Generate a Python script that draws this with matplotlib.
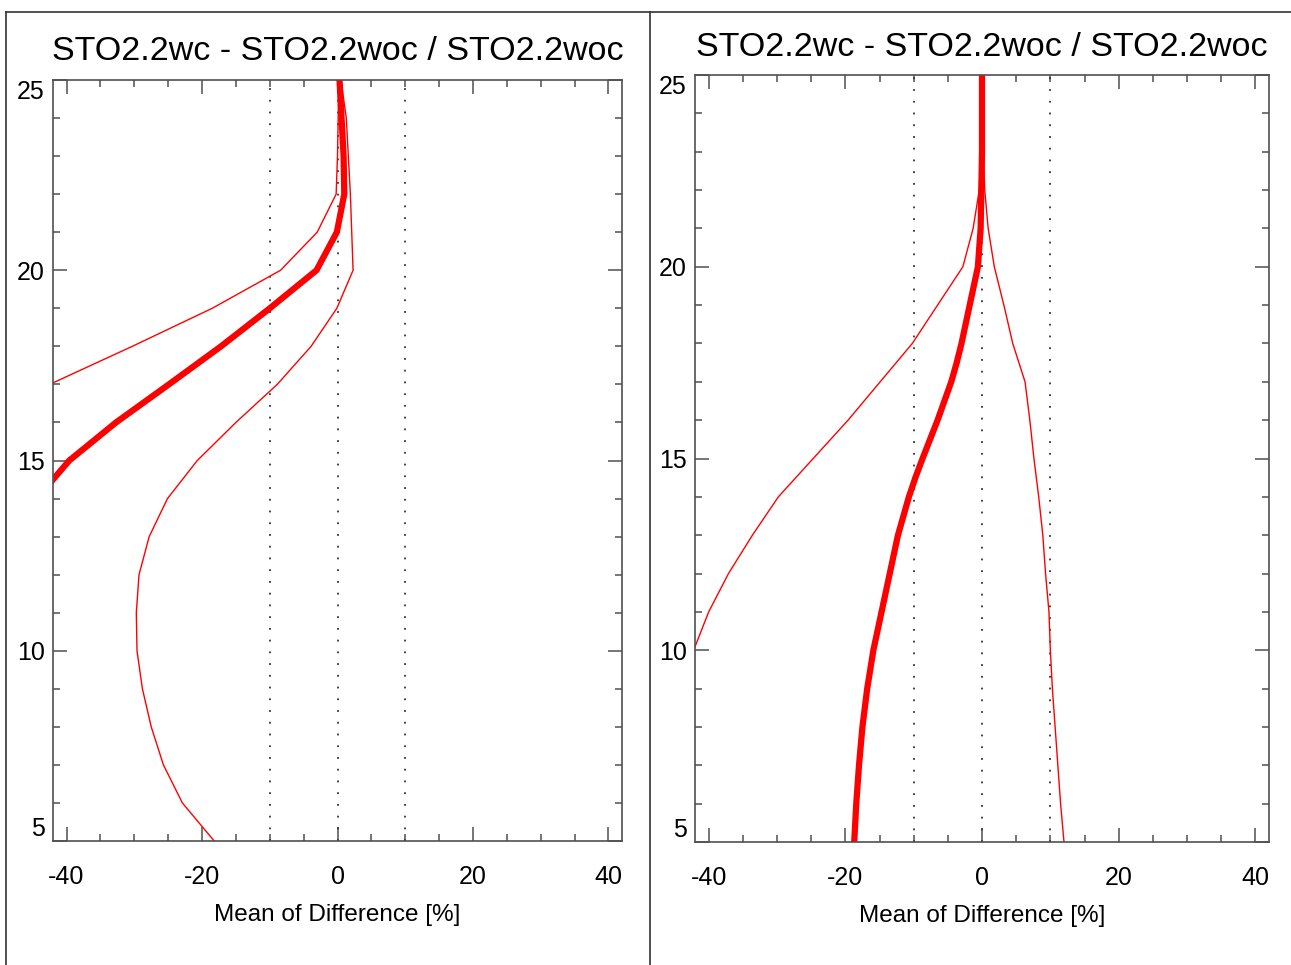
import matplotlib
matplotlib.use("Agg")
import matplotlib.pyplot as plt
from matplotlib.lines import Line2D
from matplotlib.ticker import MultipleLocator

plt.rcParams['font.family'] = ['Liberation Sans', 'DejaVu Sans']
plt.rcParams['axes.unicode_minus'] = False

title = "STO2.2wc - STO2.2woc / STO2.2woc"
xlabel = "Mean of Difference [%]"

# left panel (altitude in km, values in %)
alt_l_mean = [14, 15, 16, 17, 18, 19, 20, 21, 22, 23, 24, 25]
mean_l = [-44.4, -39.6, -32.7, -24.9, -17.2, -10.0, -3.1, -0.1, 1.0, 0.9, 0.6, 0.3]
alt_l_lo = [16, 17, 18, 19, 20, 21, 22, 23, 24, 25]
lo_l = [-54.0, -42.5, -30.3, -18.5, -8.4, -3.0, -0.2, 0.0, 0.1, 0.2]
alt_l_hi = list(range(5, 26))
hi_l = [-18.2, -22.9, -25.7, -27.5, -28.8, -29.6, -29.7, -29.3, -27.8, -25.1,
        -20.7, -15.0, -8.9, -3.9, -0.1, 2.3, 2.1, 1.9, 1.6, 1.3, 0.5]

# right panel
alt_r_mean = [5, 6, 7, 8, 9, 10, 11, 12, 13, 13.5, 14, 14.5, 15, 15.5, 16, 16.5,
              17, 17.5, 18, 19, 20, 21, 22, 23, 24, 25]
mean_r = [-18.7, -18.4, -18.0, -17.5, -16.8, -15.9, -14.7, -13.5, -12.3, -11.5,
          -10.7, -9.75, -8.7, -7.6, -6.5, -5.5, -4.5, -3.7, -3.0, -1.8, -0.6,
          -0.2, -0.1, 0.0, 0.0, 0.0]
alt_r_lo = list(range(9, 26))
lo_r = [-44.5, -42.2, -40.0, -37.1, -33.6, -29.8, -24.7, -19.6, -14.9, -10.2,
        -6.5, -2.8, -1.3, -0.4, -0.2, -0.1, 0.0]
alt_r_hi = list(range(5, 26))
hi_r = [12.0, 11.5, 11.1, 10.7, 10.3, 10.0, 9.8, 9.3, 8.9, 8.3,
        7.6, 7.0, 6.3, 4.5, 3.2, 1.8, 0.9, 0.4, 0.2, 0.1, 0.1]

ref_lines = [-10, 0, 10]

axcol = '#505050'

fig = plt.figure(figsize=(12.91, 9.65), dpi=100)
ax1 = fig.add_axes([53/1291, 1-841/965, 569/1291, 761/965])
ax2 = fig.add_axes([695/1291, 1-842/965, 574/1291, 767/965])


def setup(ax, mean_alt, mean, lo_alt, lo, hi_alt, hi):
    for xv in ref_lines:
        ax.axvline(xv, color='#333333', lw=1.3, ls=(0, (1, 5.5)))
    ax.plot(lo, lo_alt, color='red', lw=1.0)
    ax.plot(hi, hi_alt, color='red', lw=1.0)
    ax.plot(mean, mean_alt, color='red', lw=4.5, solid_joinstyle='round')
    ax.set_xlim(-42, 42)
    ax.set_ylim(5, 25)
    ax.set_xticks([-40, -20, 0, 20, 40])
    ax.set_yticks([5, 10, 15, 20, 25])
    ax.xaxis.set_minor_locator(MultipleLocator(5))
    ax.yaxis.set_minor_locator(MultipleLocator(1))
    ax.tick_params(which='both', direction='in', top=True, right=True,
                   color=axcol, width=1.1)
    ax.tick_params(which='major', length=10, labelsize=18)
    ax.tick_params(which='minor', length=5)
    ax.tick_params(axis='x', pad=17)
    ax.tick_params(axis='y', pad=6)
    for s in ax.spines.values():
        s.set_color(axcol)
        s.set_linewidth(1.2)
    ax.set_xlabel(xlabel, fontsize=17.5, labelpad=11)
    yt = ax.yaxis.get_major_ticks()
    yt[0].label1.set_va('bottom')
    yt[-1].label1.set_va('top')


setup(ax1, alt_l_mean, mean_l, alt_l_lo, lo_l, alt_l_hi, hi_l)
setup(ax2, alt_r_mean, mean_r, alt_r_lo, lo_r, alt_r_hi, hi_r)

fig.text(338/1291, 1-51/965, title, fontsize=24.5, ha='center', va='center')
fig.text(982/1291, 1-47/965, title, fontsize=24.5, ha='center', va='center')

# window borders
bc = '#333333'
fig.add_artist(Line2D([6/1291, 1], [1-12/965, 1-12/965], color=bc, lw=1.2))
fig.add_artist(Line2D([6/1291, 6/1291], [0, 1-12/965], color=bc, lw=1.2))
fig.add_artist(Line2D([650/1291, 650/1291], [0, 1-12/965], color=bc, lw=1.2))

fig.savefig("out.png", dpi=100)
